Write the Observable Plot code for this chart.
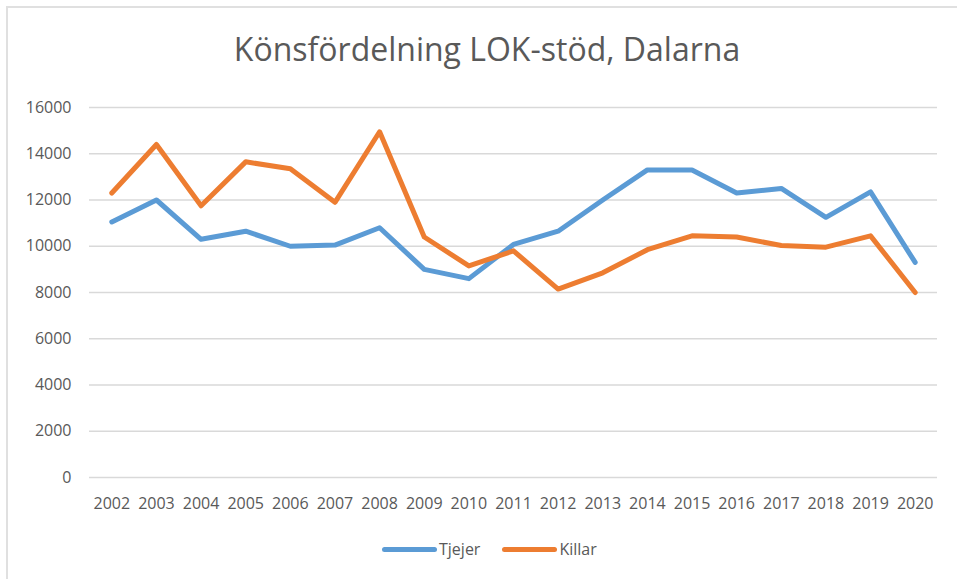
<!DOCTYPE html>
<html>
<head>
<meta charset="utf-8">
<script src="https://cdn.jsdelivr.net/npm/d3@7"></script>
<script src="https://cdn.jsdelivr.net/npm/@observablehq/plot@0.6"></script>
<style>
  html, body { margin: 0; padding: 0; background: #fff; }
  #wrap { position: relative; width: 957px; height: 579px; overflow: hidden; font-family: "Open Sans", sans-serif; }
  #frame { position: absolute; left: 6px; top: 6px; width: 1000px; height: 700px; border: 2px solid #e0e0e0; box-sizing: border-box; }
  #title { position: absolute; left: 487px; top: 29px; transform: translateX(-50%); white-space: nowrap; font-size: 32px; font-weight: 400; color: #595959; line-height: 40px; }
  #chart { position: absolute; left: 0; top: 80px; }
  #legend { position: absolute; top: 538px; left: 382px; display: flex; align-items: center; font-size: 16px; color: #595959; line-height: 22px; white-space: nowrap; }
  .sw { display: inline-block; width: 55px; height: 5px; border-radius: 3px; margin-right: 2px; }
  .item { display: flex; align-items: center; margin-right: 22px; }
</style>
</head>
<body>
<div id="wrap">
  <div id="frame"></div>
  <div id="title"></div>
  <div id="chart"></div>
  <div id="legend"></div>
</div>
<script>
const titleText = "Könsfördelning LOK-stöd, Dalarna";
const years = ["2002","2003","2004","2005","2006","2007","2008","2009","2010","2011","2012","2013","2014","2015","2016","2017","2018","2019","2020"];
const tjejer = [11050, 12000, 10300, 10650, 10000, 10050, 10800, 9000, 8600, 10080, 10650, 12000, 13300, 13300, 12300, 12500, 11250, 12350, 9300];
const killar = [12300, 14400, 11750, 13650, 13350, 11900, 14950, 10400, 9150, 9800, 8150, 8850, 9850, 10450, 10400, 10030, 9960, 10450, 8000];
const seriesNames = ["Tjejer", "Killar"];
const seriesColors = ["#5B9BD5", "#ED7D31"];
const yTicks = [0, 2000, 4000, 6000, 8000, 10000, 12000, 14000, 16000];

document.getElementById("title").textContent = titleText;

const data = [];
years.forEach((y, i) => {
  data.push({year: y, value: tjejer[i], series: seriesNames[0]});
  data.push({year: y, value: killar[i], series: seriesNames[1]});
});

const chart = Plot.plot({
  width: 957,
  height: 440,
  marginTop: 27,
  marginBottom: 43,
  marginLeft: 89,
  marginRight: 20,
  style: { fontFamily: "Open Sans, sans-serif", fontSize: "16px", color: "#595959", background: "transparent" },
  x: { type: "point", domain: years, padding: 0.5, round: false },
  y: { domain: [0, 16000] },
  color: { domain: seriesNames, range: seriesColors },
  marks: [
    Plot.gridY(yTicks, { stroke: "#d9d9d9", strokeOpacity: 1, strokeWidth: 1.3 }),
    Plot.axisY(yTicks, { tickSize: 0, tickPadding: 18, label: null, tickFormat: d => String(d), fill: "#595959" }),
    Plot.axisX({ tickSize: 0, tickPadding: 20, label: null, fill: "#595959" }),
    Plot.line(data, { x: "year", y: "value", z: "series", stroke: "series", strokeWidth: 5, strokeLinejoin: "round", strokeLinecap: "round" })
  ]
});
document.getElementById("chart").appendChild(chart);

const legend = document.getElementById("legend");
seriesNames.forEach((name, i) => {
  const item = document.createElement("div");
  item.className = "item";
  const sw = document.createElement("span");
  sw.className = "sw";
  sw.style.background = seriesColors[i];
  const lab = document.createElement("span");
  lab.textContent = name;
  item.appendChild(sw);
  item.appendChild(lab);
  legend.appendChild(item);
});
</script>
</body>
</html>
